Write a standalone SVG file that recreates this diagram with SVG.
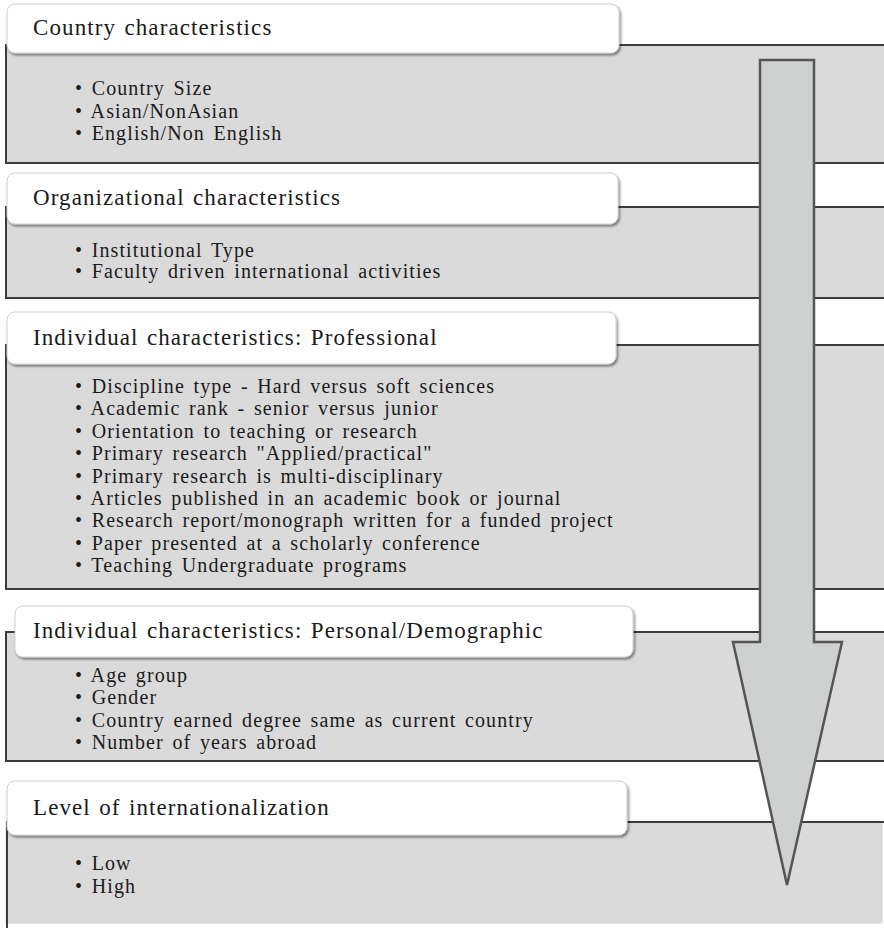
<svg xmlns="http://www.w3.org/2000/svg" width="884" height="928" viewBox="0 0 884 928">
  <defs>
    <filter id="shadow" x="-5%" y="-20%" width="110%" height="150%">
      <feDropShadow dx="1.5" dy="2" stdDeviation="1.2" flood-color="#000" flood-opacity="0.45"/>
    </filter>
    <style>
      .panel { fill: #dadada; stroke: #3c3c3c; stroke-width: 2; }
      .header { fill: #ffffff; stroke: #d0d0d0; stroke-width: 1; filter: url(#shadow); }
      .title { font-family: "Liberation Serif", "Times New Roman", serif; font-size: 23px; letter-spacing: 1.1px; word-spacing: 1.5px; fill: #1a1a1a; }
      .item { font-family: "Liberation Serif", "Times New Roman", serif; font-size: 20px; letter-spacing: 1.1px; word-spacing: 2.5px; fill: #1a1a1a; }
      .arrow { fill: #cfd1d0; stroke: #555555; stroke-width: 2.5; stroke-linejoin: miter; }
    </style>
  </defs>
  <rect width="884" height="928" fill="#ffffff"/>

  <g id="country">
    <rect class="panel" x="6" y="45" width="890" height="118"/>
    <rect class="header" x="7" y="4" width="612" height="49" rx="8"/>
    <text class="title" x="33" y="35">Country characteristics</text>
    <text class="item" x="75" y="95">• Country Size</text>
    <text class="item" x="75" y="117.5">• Asian/NonAsian</text>
    <text class="item" x="75" y="140">• English/Non English</text>
  </g>

  <g id="organizational">
    <rect class="panel" x="6" y="207" width="890" height="91"/>
    <rect class="header" x="7" y="173" width="611" height="51" rx="8"/>
    <text class="title" x="33" y="205">Organizational characteristics</text>
    <text class="item" x="75" y="256.5">• Institutional Type</text>
    <text class="item" x="75" y="278">• Faculty driven international activities</text>
  </g>

  <g id="professional">
    <rect class="panel" x="6" y="345" width="890" height="244"/>
    <rect class="header" x="7" y="312" width="609" height="52" rx="8"/>
    <text class="title" x="33" y="345">Individual characteristics: Professional</text>
    <text class="item" x="75" y="393">• Discipline type - Hard versus soft sciences</text>
    <text class="item" x="75" y="415.4">• Academic rank - senior versus junior</text>
    <text class="item" x="75" y="437.8">• Orientation to teaching or research</text>
    <text class="item" x="75" y="460.2">• Primary research "Applied/practical"</text>
    <text class="item" x="75" y="482.6">• Primary research is multi-disciplinary</text>
    <text class="item" x="75" y="505">• Articles published in an academic book or journal</text>
    <text class="item" x="75" y="527.4">• Research report/monograph written for a funded project</text>
    <text class="item" x="75" y="549.8">• Paper presented at a scholarly conference</text>
    <text class="item" x="75" y="572.2">• Teaching Undergraduate programs</text>
  </g>

  <g id="personal">
    <rect class="panel" x="6" y="632" width="890" height="129"/>
    <rect class="header" x="15" y="606" width="618" height="51" rx="8"/>
    <text class="title" x="33" y="638">Individual characteristics: Personal/Demographic</text>
    <text class="item" x="75" y="681.5">• Age group</text>
    <text class="item" x="75" y="704">• Gender</text>
    <text class="item" x="75" y="726.5">• Country earned degree same as current country</text>
    <text class="item" x="75" y="749">• Number of years abroad</text>
  </g>

  <g id="level">
    <rect x="6" y="822" width="876" height="101" fill="#dadada" stroke="#d4d4d4" stroke-width="1"/>
    <path d="M7 928 V822 H884" fill="none" stroke="#3c3c3c" stroke-width="2"/>
    <rect class="header" x="7" y="781" width="620" height="54" rx="8"/>
    <text class="title" x="33" y="815">Level of internationalization</text>
    <text class="item" x="75" y="870">• Low</text>
    <text class="item" x="75" y="893">• High</text>
  </g>

  <g id="connectors">
    <polygon class="arrow" points="760,60 814,60 814,642 842,642 787,885 733,642 760,642"/>
  </g>
</svg>
